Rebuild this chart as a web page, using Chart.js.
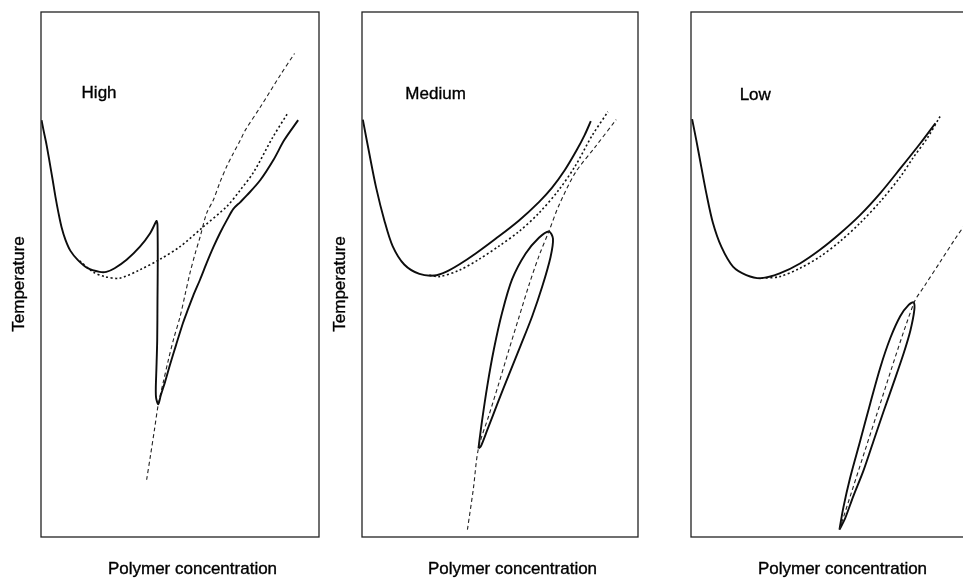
<!DOCTYPE html>
<html>
<head>
<meta charset="utf-8">
<script src="https://cdn.jsdelivr.net/npm/chart.js@4.4.1/dist/chart.umd.min.js"></script>
<style>
  html, body { margin: 0; padding: 0; background: #fff; overflow: hidden; }
  #wrap { position: relative; width: 1000px; height: 579px; }
  canvas { position: absolute; top: 0; }
</style>
</head>
<body>
<div id="wrap">
  <canvas id="high" width="340" height="579" style="left:0px"></canvas>
  <canvas id="medium" width="340" height="579" style="left:321px"></canvas>
  <canvas id="low" width="340" height="579" style="left:650px"></canvas>
</div>
<script>
// ejes en unidades arbitrarias (0-100)
const panelNames = ['High', 'Medium', 'Low'];
const xTitle = 'Polymer concentration';
const yTitle = 'Temperature';

// --- High ---
const highSolidX = [0.2, 0.9, 2.0, 3.1, 4.2, 5.2, 6.3, 7.4, 8.8, 10.6, 13.2, 16.8, 21.1, 23.5, 26.5, 30.8, 35.6, 39.2, 41.4, 41.6, 41.9, 42.0, 41.9, 41.8, 41.5, 41.3, 41.4, 42.2, 43.1, 44.6, 46.4, 48.6, 51.1, 52.4, 54.7, 57.2, 59.6, 62.0, 64.4, 66.9, 69.2, 71.7, 74.1, 78.9, 83.7, 87.5, 92.5];
const highSolidY = [79.4, 77.5, 74.7, 71.4, 68.0, 64.8, 61.7, 59.0, 56.6, 54.5, 52.8, 51.2, 50.5, 50.5, 51.2, 52.8, 55.3, 57.8, 60.1, 60.2, 59.4, 52.8, 45.1, 37.5, 31.8, 28.4, 26.5, 25.3, 27.0, 29.5, 32.8, 36.6, 40.8, 42.7, 45.9, 49.0, 52.2, 55.2, 57.9, 60.4, 62.5, 63.8, 65.1, 68.0, 71.9, 75.6, 79.4];
const highDottedX = [13.9, 18.7, 22.9, 28.3, 35.6, 42.8, 50.0, 58.4, 66.9, 71.7, 76.5, 83.1, 88.7];
const highDottedY = [52.6, 50.5, 49.6, 49.3, 50.9, 52.9, 55.3, 59.1, 63.0, 66.1, 69.5, 75.9, 80.7];
const highDashedX = [38.0, 39.4, 40.8, 42.2, 43.9, 45.8, 47.8, 50.0, 51.8, 53.6, 55.4, 57.2, 59.6, 62.0, 64.4, 66.9, 69.2, 71.7, 73.5, 78.9, 86.1, 91.2];
const highDashedY = [10.9, 15.6, 20.4, 25.3, 29.3, 33.7, 37.9, 41.9, 46.1, 50.3, 53.9, 57.1, 61.7, 64.2, 67.6, 70.7, 73.1, 75.6, 77.5, 81.9, 88.0, 92.1];

// --- Medium ---
const medSolidX = [0.3, 2.7, 5.1, 8.1, 11.1, 15.3, 20.8, 26.2, 30.4, 35.2, 41.2, 48.4, 56.9, 64.1, 68.8, 73.5, 77.8, 80.7, 82.9];
const medSolidY = [79.5, 72.9, 66.6, 60.3, 55.4, 51.9, 50.1, 49.8, 50.5, 51.9, 54.0, 56.8, 60.3, 63.8, 66.5, 69.9, 73.7, 76.6, 79.2];
const medDottedX = [24.4, 28.0, 35.2, 42.4, 49.6, 56.9, 64.1, 71.3, 77.3, 83.3, 89.1];
const medDottedY = [49.9, 49.6, 50.8, 52.9, 55.4, 58.2, 61.7, 66.1, 70.7, 76.4, 81.0];
const medDashedX = [38.2, 40.3, 42.2, 46.0, 49.6, 53.2, 56.9, 60.5, 64.1, 67.7, 71.3, 77.3, 84.5, 92.1];
const medDashedY = [1.4, 9.0, 16.9, 23.2, 29.3, 35.6, 41.9, 48.0, 53.5, 58.2, 63.1, 69.4, 74.3, 79.5];
const medLoopX = [42.2, 43.4, 45.4, 47.8, 50.8, 54.4, 59.3, 64.1, 67.7, 69.2, 68.3, 65.3, 61.7, 57.5, 53.2, 49.0, 45.4, 43.0, 42.2];
const medLoopY = [16.9, 21.8, 28.8, 35.8, 42.8, 49.1, 54.0, 57.0, 58.2, 56.8, 53.3, 47.7, 42.1, 36.5, 30.9, 25.3, 20.4, 17.2, 16.9];

// --- Low ---
const lowSolidX = [0.4, 1.9, 3.7, 5.5, 7.9, 10.9, 15.1, 19.9, 25.3, 31.9, 39.2, 46.4, 53.6, 60.8, 68.1, 75.3, 82.5, 87.9];
const lowSolidY = [79.6, 75.6, 70.5, 65.5, 59.8, 55.3, 51.5, 49.9, 49.3, 50.2, 52.1, 54.7, 57.8, 61.3, 65.5, 70.2, 75.0, 78.8];
const lowDottedX = [25.3, 31.9, 39.2, 46.4, 53.6, 60.8, 68.1, 75.3, 80.1, 84.9, 89.7];
const lowDottedY = [49.3, 49.6, 51.2, 53.4, 56.3, 59.8, 63.9, 68.6, 72.4, 75.9, 80.2];
const lowDashedX = [53.4, 66.6, 80.1, 84.1, 89.5, 94.9, 100];
const lowDashedY = [1.4, 23.0, 44.5, 47.9, 52.3, 56.7, 60.6];
const lowLoopX = [53.4, 54.8, 57.2, 60.8, 64.4, 68.1, 71.7, 75.3, 78.3, 80.1, 80.3, 78.9, 76.5, 72.9, 69.2, 65.6, 62.0, 58.4, 55.4, 53.4];
const lowLoopY = [1.4, 5.6, 11.2, 18.2, 25.3, 32.3, 37.9, 42.1, 44.2, 44.7, 43.1, 39.3, 35.0, 29.4, 23.8, 18.2, 12.6, 7.8, 3.5, 1.4];

const FONT = '17px "Liberation Sans", Arial, sans-serif';

function pts(xs, ys) {
    return xs.map((x, i) => ({x: x, y: ys[i]}));
}

// estilos de linea
function solid(xs, ys) {
    return {data: pts(xs, ys), borderColor: '#0d0d0d', borderWidth: 1.9, tension: 0.3};
}
function dotted(xs, ys) {
    return {data: pts(xs, ys), borderColor: '#111', borderWidth: 1.6, borderDash: [2, 2.5], tension: 0.3};
}
function dashed(xs, ys) {
    return {data: pts(xs, ys), borderColor: '#222', borderWidth: 1.1, borderDash: [4, 3], tension: 0.3};
}

// marco, nombre del panel y titulos de ejes
const panelDecor = {
    id: 'panelDecor',
    afterDraw(chart, args, opts) {
        const {ctx, chartArea: a, scales} = chart;
        ctx.save();
        ctx.strokeStyle = '#222';
        ctx.lineWidth = 1.3;
        ctx.strokeRect(a.left, a.top, a.right - a.left, a.bottom - a.top);
        ctx.fillStyle = '#000';
        ctx.strokeStyle = '#000';
        ctx.lineWidth = 0.35;
        ctx.font = FONT;
        ctx.textBaseline = 'middle';
        ctx.textAlign = 'left';
        const nx = scales.x.getPixelForValue(opts.nameAt[0]);
        const ny = scales.y.getPixelForValue(opts.nameAt[1]);
        ctx.fillText(opts.name, nx, ny);
        ctx.strokeText(opts.name, nx, ny);
        ctx.textAlign = 'center';
        const tx = (a.left + a.right) / 2 + 12.5;
        ctx.fillText(xTitle, tx, a.bottom + 32);
        ctx.strokeText(xTitle, tx, a.bottom + 32);
        if (opts.showY) {
            ctx.translate(a.left - 22, (a.top + a.bottom) / 2 + 9.5);
            ctx.rotate(-Math.PI / 2);
            ctx.fillText(yTitle, 0, 0);
            ctx.strokeText(yTitle, 0, 0);
        }
        ctx.restore();
    }
};

function makePanel(id, name, nameAt, showY, rightPad, datasets) {
    const ctx = document.getElementById(id).getContext('2d');
    new Chart(ctx, {
        type: 'line',
        data: {datasets: datasets},
        options: {
            responsive: false,
            animation: false,
            layout: {padding: {left: 41, right: rightPad, top: 12, bottom: 42}},
            elements: {point: {radius: 0}},
            scales: {
                x: {type: 'linear', min: 0, max: 100, display: false},
                y: {type: 'linear', min: 0, max: 100, display: false},
            },
            plugins: {
                legend: {display: false},
                tooltip: {enabled: false},
                panelDecor: {name: name, nameAt: nameAt, showY: showY},
            },
        },
        plugins: [panelDecor],
    });
}

makePanel('high', panelNames[0], [14.6, 84.6], true, 21, [
    solid(highSolidX, highSolidY),
    dotted(highDottedX, highDottedY),
    dashed(highDashedX, highDashedY),
]);
makePanel('medium', panelNames[1], [15.7, 84.4], true, 23, [
    solid(medSolidX, medSolidY),
    dotted(medDottedX, medDottedY),
    dashed(medDashedX, medDashedY),
    solid(medLoopX, medLoopY),
]);
makePanel('low', panelNames[2], [17.5, 84.2], false, 21, [
    solid(lowSolidX, lowSolidY),
    dotted(lowDottedX, lowDottedY),
    dashed(lowDashedX, lowDashedY),
    solid(lowLoopX, lowLoopY),
]);
</script>
</body>
</html>
